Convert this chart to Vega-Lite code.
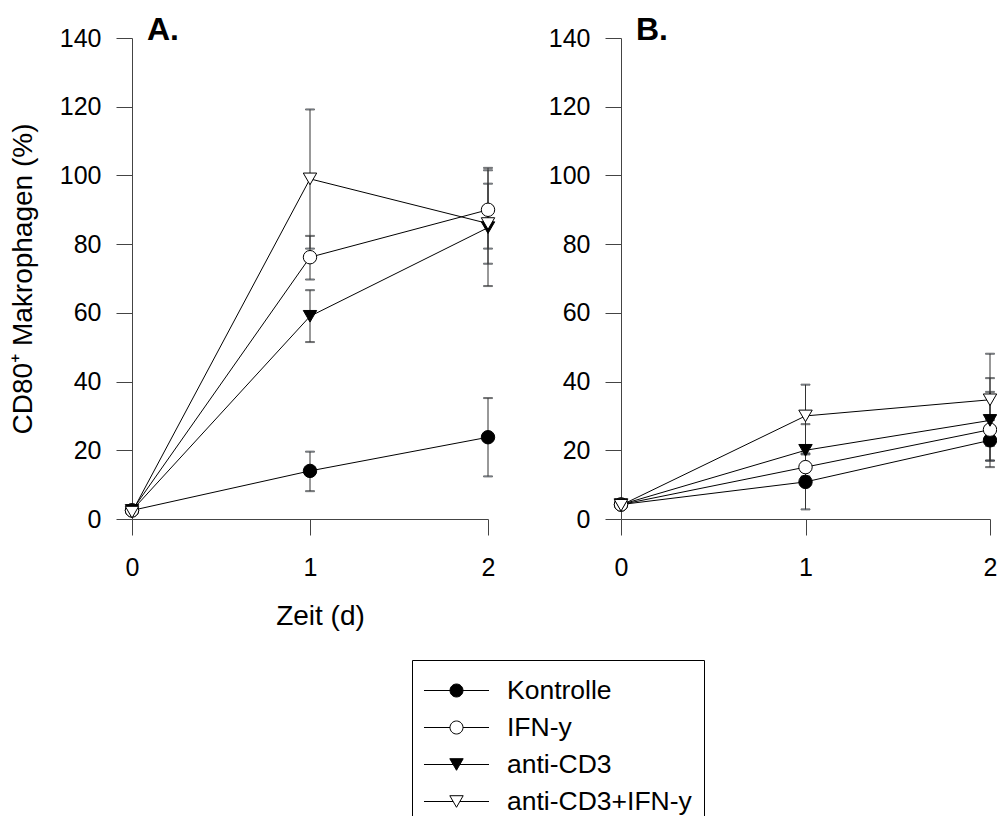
{
  "$schema": "https://vega.github.io/schema/vega-lite/v6.json",
  "background": "white",
  "padding": {"left": 9, "top": 14, "right": 5, "bottom": 0},
  "spacing": 51,
  "datasets": {
    "a": [
      {"group": "Kontrolle", "day": 0, "value": 2.5, "lo": null, "hi": null},
      {"group": "Kontrolle", "day": 1, "value": 14.0, "lo": 8.1, "hi": 19.6},
      {"group": "Kontrolle", "day": 2, "value": 23.8, "lo": 12.4, "hi": 35.2},
      {"group": "IFN-y", "day": 0, "value": 2.5, "lo": null, "hi": null},
      {"group": "IFN-y", "day": 1, "value": 76.2, "lo": 69.7, "hi": 82.4},
      {"group": "IFN-y", "day": 2, "value": 90.0, "lo": 78.7, "hi": 102.2},
      {"group": "anti-CD3", "day": 0, "value": 2.5, "lo": null, "hi": null},
      {"group": "anti-CD3", "day": 1, "value": 59.0, "lo": 51.5, "hi": 66.6},
      {"group": "anti-CD3", "day": 2, "value": 84.8, "lo": 67.8, "hi": 101.5},
      {"group": "anti-CD3+IFN-y", "day": 0, "value": 2.0, "lo": null, "hi": null},
      {"group": "anti-CD3+IFN-y", "day": 1, "value": 99.0, "lo": 78.7, "hi": 119.2},
      {"group": "anti-CD3+IFN-y", "day": 2, "value": 86.0, "lo": 74.3, "hi": 97.6}
    ],
    "b": [
      {"group": "Kontrolle", "day": 0, "value": 4.2, "lo": null, "hi": null},
      {"group": "Kontrolle", "day": 1, "value": 10.8, "lo": 2.8, "hi": 18.8},
      {"group": "Kontrolle", "day": 2, "value": 22.9, "lo": 17.0, "hi": 28.8},
      {"group": "IFN-y", "day": 0, "value": 4.2, "lo": null, "hi": null},
      {"group": "IFN-y", "day": 1, "value": 15.1, "lo": 11.1, "hi": 19.1},
      {"group": "IFN-y", "day": 2, "value": 26.0, "lo": 15.1, "hi": 37.0},
      {"group": "anti-CD3", "day": 0, "value": 4.2, "lo": null, "hi": null},
      {"group": "anti-CD3", "day": 1, "value": 20.0, "lo": 12.4, "hi": 27.6},
      {"group": "anti-CD3", "day": 2, "value": 28.7, "lo": 17.0, "hi": 41.0},
      {"group": "anti-CD3+IFN-y", "day": 0, "value": 4.0, "lo": null, "hi": null},
      {"group": "anti-CD3+IFN-y", "day": 1, "value": 30.0, "lo": 21.0, "hi": 39.1},
      {"group": "anti-CD3+IFN-y", "day": 2, "value": 34.7, "lo": 21.3, "hi": 48.1}
    ]
  },
  "hconcat": [
    {
      "width": 356,
      "height": 481,
      "title": {"text": "A.", "dx": 15, "baseline": "alphabetic", "frame": "group", "offset": -46},
      "data": {"name": "a"},
      "encoding": {
        "x": {"field": "day", "type": "quantitative", "scale": {"domain": [0, 2], "nice": false, "zero": false}, "axis": {"tickCount": 2, "format": "d", "title": "Zeit (d)", "titleX": 188}}
      },
      "layer": [
        {
          "mark": {"type": "line", "stroke": "black", "strokeWidth": 1},
          "encoding": {
            "y": {"field": "value", "type": "quantitative", "scale": {"domain": [0, 140], "nice": false}, "axis": {"values": [0, 20, 40, 60, 80, 100, 120, 140], "title": "CD80⁺ Makrophagen (%)"}},
            "detail": {"field": "group"}
          }
        },
        {
          "transform": [{"filter": "datum.lo != null"}],
          "mark": {"type": "errorbar", "ticks": {"stroke": "#333", "size": 9, "strokeWidth": 1}, "rule": {"stroke": "#333", "strokeWidth": 1}},
          "encoding": {
            "y": {"field": "lo", "type": "quantitative", "scale": {"domain": [0, 140], "nice": false}, "title": "CD80⁺ Makrophagen (%)"},
            "y2": {"field": "hi"}
          }
        },
        {
          "transform": [{"filter": "datum.group === 'Kontrolle' || datum.group === 'IFN-y'"}],
          "mark": {"type": "point", "shape": "circle", "filled": true, "size": 180, "stroke": "black", "strokeWidth": 1, "opacity": 1},
          "encoding": {
            "y": {"field": "value", "type": "quantitative", "scale": {"domain": [0, 140], "nice": false}, "title": "CD80⁺ Makrophagen (%)"},
            "fill": {"field": "group", "type": "nominal", "scale": {"domain": ["Kontrolle", "IFN-y", "anti-CD3", "anti-CD3+IFN-y"], "range": ["black", "white", "black", "white"]},
              "legend": {"title": null, "orient": "none", "legendX": 280, "legendY": 622, "direction": "vertical", "padding": 12, "strokeColor": "black", "fillColor": "white", "symbolSize": 1296, "symbolOffset": 14, "labelOffset": 32, "labelFontSize": 26.5, "labelFont": "Liberation Sans", "labelColor": "black", "labelLimit": 400, "rowPadding": 5, "symbolStrokeWidth": 1}}
          }
        },
        {
          "transform": [{"filter": "datum.group === 'anti-CD3' || datum.group === 'anti-CD3+IFN-y'"}],
          "mark": {"type": "point", "shape": "triangle-down", "filled": true, "size": 180, "stroke": "black", "strokeWidth": 1, "opacity": 1},
          "encoding": {
            "y": {"field": "value", "type": "quantitative", "scale": {"domain": [0, 140], "nice": false}, "title": "CD80⁺ Makrophagen (%)"},
            "fill": {"field": "group", "type": "nominal", "scale": {"domain": ["Kontrolle", "IFN-y", "anti-CD3", "anti-CD3+IFN-y"], "range": ["black", "white", "black", "white"]},
              "legend": {"title": null, "orient": "none", "legendX": 280, "legendY": 622, "direction": "vertical", "padding": 12, "strokeColor": "black", "fillColor": "white", "symbolSize": 1296, "symbolOffset": 14, "labelOffset": 32, "labelFontSize": 26.5, "labelFont": "Liberation Sans", "labelColor": "black", "labelLimit": 400, "rowPadding": 5, "symbolStrokeWidth": 1}}
          }
        },
        {
          "transform": [{"filter": "datum.day > 99"}],
          "mark": {"type": "point", "filled": true, "strokeWidth": 1, "opacity": 1},
          "encoding": {
            "y": {"field": "value", "type": "quantitative", "scale": {"domain": [0, 140], "nice": false}, "title": "CD80⁺ Makrophagen (%)"},
            "shape": {"field": "group", "type": "nominal", "scale": {"domain": ["Kontrolle", "IFN-y", "anti-CD3", "anti-CD3+IFN-y"], "range": ["M-1.806,0H-0.361M0.361,0H1.806M-0.361,0A0.361,0.361,0,1,1,0.361,0A0.361,0.361,0,1,1,-0.361,0Z", "M-1.806,0H-0.361M0.361,0H1.806M-0.361,0A0.361,0.361,0,1,1,0.361,0A0.361,0.361,0,1,1,-0.361,0Z", "M-1.806,0H-0.186M0.186,0H1.806M0,0.322L-0.372,-0.322L0.372,-0.322Z", "M-1.806,0H-0.186M0.186,0H1.806M0,0.322L-0.372,-0.322L0.372,-0.322Z"]},
              "legend": {"title": null, "orient": "none", "legendX": 280, "legendY": 622, "direction": "vertical", "padding": 12, "strokeColor": "black", "fillColor": "white", "symbolSize": 1296, "symbolOffset": 14, "labelOffset": 32, "labelFontSize": 26.5, "labelFont": "Liberation Sans", "labelColor": "black", "labelLimit": 400, "rowPadding": 5, "symbolStrokeWidth": 1}},
            "fill": {"field": "group", "type": "nominal", "scale": {"domain": ["Kontrolle", "IFN-y", "anti-CD3", "anti-CD3+IFN-y"], "range": ["black", "white", "black", "white"]},
              "legend": {"title": null, "orient": "none", "legendX": 280, "legendY": 622, "direction": "vertical", "padding": 12, "strokeColor": "black", "fillColor": "white", "symbolSize": 1296, "symbolOffset": 14, "labelOffset": 32, "labelFontSize": 26.5, "labelFont": "Liberation Sans", "labelColor": "black", "labelLimit": 400, "rowPadding": 5, "symbolStrokeWidth": 1}},
            "stroke": {"field": "group", "type": "nominal", "scale": {"domain": ["Kontrolle", "IFN-y", "anti-CD3", "anti-CD3+IFN-y"], "range": ["black", "black", "black", "black"]},
              "legend": {"title": null, "orient": "none", "legendX": 280, "legendY": 622, "direction": "vertical", "padding": 12, "strokeColor": "black", "fillColor": "white", "symbolSize": 1296, "symbolOffset": 14, "labelOffset": 32, "labelFontSize": 26.5, "labelFont": "Liberation Sans", "labelColor": "black", "labelLimit": 400, "rowPadding": 5, "symbolStrokeWidth": 1}}
          }
        }
      ]
    },
    {
      "width": 369,
      "height": 481,
      "title": {"text": "B.", "dx": 15, "baseline": "alphabetic", "frame": "group", "offset": -46},
      "data": {"name": "b"},
      "encoding": {
        "x": {"field": "day", "type": "quantitative", "scale": {"domain": [0, 2], "nice": false, "zero": false}, "axis": {"tickCount": 2, "format": "d", "title": null}}
      },
      "layer": [
        {
          "mark": {"type": "line", "stroke": "black", "strokeWidth": 1},
          "encoding": {
            "y": {"field": "value", "type": "quantitative", "scale": {"domain": [0, 140], "nice": false}, "axis": {"values": [0, 20, 40, 60, 80, 100, 120, 140], "title": null}},
            "detail": {"field": "group"}
          }
        },
        {
          "transform": [{"filter": "datum.lo != null"}],
          "mark": {"type": "errorbar", "ticks": {"stroke": "#333", "size": 9, "strokeWidth": 1}, "rule": {"stroke": "#333", "strokeWidth": 1}},
          "encoding": {
            "y": {"field": "lo", "type": "quantitative", "scale": {"domain": [0, 140], "nice": false}, "title": null},
            "y2": {"field": "hi"}
          }
        },
        {
          "transform": [{"filter": "datum.group === 'Kontrolle' || datum.group === 'IFN-y'"}],
          "mark": {"type": "point", "shape": "circle", "filled": true, "size": 180, "stroke": "black", "strokeWidth": 1, "opacity": 1},
          "encoding": {
            "y": {"field": "value", "type": "quantitative", "scale": {"domain": [0, 140], "nice": false}, "title": null},
            "fill": {"field": "group", "type": "nominal", "scale": {"domain": ["Kontrolle", "IFN-y", "anti-CD3", "anti-CD3+IFN-y"], "range": ["black", "white", "black", "white"]},
              "legend": {"title": null, "orient": "none", "legendX": 280, "legendY": 622, "direction": "vertical", "padding": 12, "strokeColor": "black", "fillColor": "white", "symbolSize": 1296, "symbolOffset": 14, "labelOffset": 32, "labelFontSize": 26.5, "labelFont": "Liberation Sans", "labelColor": "black", "labelLimit": 400, "rowPadding": 5, "symbolStrokeWidth": 1}}
          }
        },
        {
          "transform": [{"filter": "datum.group === 'anti-CD3' || datum.group === 'anti-CD3+IFN-y'"}],
          "mark": {"type": "point", "shape": "triangle-down", "filled": true, "size": 180, "stroke": "black", "strokeWidth": 1, "opacity": 1},
          "encoding": {
            "y": {"field": "value", "type": "quantitative", "scale": {"domain": [0, 140], "nice": false}, "title": null},
            "fill": {"field": "group", "type": "nominal", "scale": {"domain": ["Kontrolle", "IFN-y", "anti-CD3", "anti-CD3+IFN-y"], "range": ["black", "white", "black", "white"]},
              "legend": {"title": null, "orient": "none", "legendX": 280, "legendY": 622, "direction": "vertical", "padding": 12, "strokeColor": "black", "fillColor": "white", "symbolSize": 1296, "symbolOffset": 14, "labelOffset": 32, "labelFontSize": 26.5, "labelFont": "Liberation Sans", "labelColor": "black", "labelLimit": 400, "rowPadding": 5, "symbolStrokeWidth": 1}}
          }
        }
      ]
    }
  ],
  "config": {
    "font": "Liberation Sans",
    "view": {"stroke": null},
    "axis": {"grid": false, "domainColor": "#444", "tickColor": "#444", "tickSize": 16, "labelFontSize": 25, "labelColor": "black", "titleFontSize": 28, "titleFontWeight": "normal", "titleColor": "black", "labelFont": "Liberation Sans", "titleFont": "Liberation Sans", "labelOverlap": false, "labelFlush": false},
    "axisX": {"labelPadding": 20, "titlePadding": 22},
    "axisY": {"labelPadding": 15, "titlePadding": 22},
    "title": {"fontSize": 32, "fontWeight": "bold", "anchor": "start", "color": "black", "font": "Liberation Sans"}
  }
}
